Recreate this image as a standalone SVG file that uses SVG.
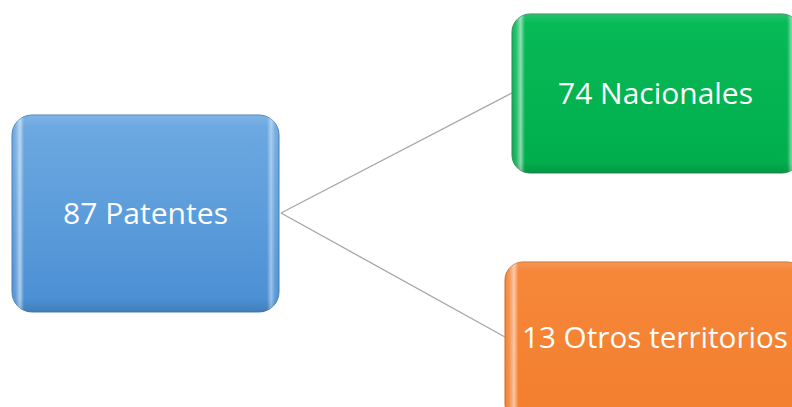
<svg xmlns="http://www.w3.org/2000/svg" width="792" height="407" viewBox="0 0 792 407">
<defs>
<linearGradient id="gBlue" x1="0" y1="0" x2="0" y2="1">
<stop offset="0" stop-color="#6eaae2"/><stop offset="1" stop-color="#4a8fd3"/>
</linearGradient>
<linearGradient id="gGreen" x1="0" y1="0" x2="0" y2="1">
<stop offset="0" stop-color="#07bb57"/><stop offset="1" stop-color="#00ad4c"/>
</linearGradient>
<linearGradient id="gOrange" x1="0" y1="0" x2="0" y2="1">
<stop offset="0" stop-color="#f6873a"/><stop offset="1" stop-color="#f37f2f"/>
</linearGradient>
<linearGradient id="bevel" x1="0" y1="0" x2="1" y2="0">
<stop offset="0" stop-color="#fff" stop-opacity="0"/>
<stop offset="0.015" stop-color="#fff" stop-opacity="0.15"/>
<stop offset="0.03" stop-color="#fff" stop-opacity="0.55"/>
<stop offset="0.045" stop-color="#fff" stop-opacity="0"/>
<stop offset="0.955" stop-color="#fff" stop-opacity="0"/>
<stop offset="0.97" stop-color="#fff" stop-opacity="0.45"/>
<stop offset="0.985" stop-color="#fff" stop-opacity="0.1"/>
<stop offset="1" stop-color="#fff" stop-opacity="0"/>
</linearGradient>
<linearGradient id="bevelV" x1="0" y1="0" x2="0" y2="1">
<stop offset="0" stop-color="#fff" stop-opacity="0.12"/>
<stop offset="0.06" stop-color="#fff" stop-opacity="0"/>
<stop offset="0.93" stop-color="#000" stop-opacity="0"/>
<stop offset="1" stop-color="#000" stop-opacity="0.12"/>
</linearGradient>
</defs>
<style>
.lbl{font-family:"Open Sans","Noto Sans",sans-serif;font-size:30px;fill:#fff;text-anchor:middle}
.conn{stroke:#a6a6a6;stroke-width:1.3;fill:none}
</style>
<g id="connectors">
<line class="conn" x1="281" y1="213" x2="512" y2="93"/>
<line class="conn" x1="281" y1="213" x2="505" y2="337"/>
</g>
<g id="node-patentes">
<rect x="12" y="115" width="267" height="197" rx="20" fill="url(#gBlue)" stroke="#4a7fb5" stroke-width="1"/>
<rect x="12" y="115" width="267" height="197" rx="20" fill="url(#bevel)"/>
<rect x="12" y="115" width="267" height="197" rx="20" fill="url(#bevelV)"/>
<text class="lbl" x="145.5" y="224" textLength="165" lengthAdjust="spacingAndGlyphs">87 Patentes</text>
</g>
<g id="node-nacionales">
<rect x="512" y="14" width="288" height="159" rx="18" fill="url(#gGreen)" stroke="#2e8b57" stroke-width="1"/>
<rect x="512" y="14" width="288" height="159" rx="18" fill="url(#bevel)"/>
<rect x="512" y="14" width="288" height="159" rx="18" fill="url(#bevelV)"/>
<text class="lbl" x="655.5" y="104" textLength="195" lengthAdjust="spacingAndGlyphs">74 Nacionales</text>
</g>
<g id="node-otros">
<rect x="505" y="262" width="300" height="160" rx="18" fill="url(#gOrange)" stroke="#c96a2a" stroke-width="1"/>
<rect x="505" y="262" width="300" height="160" rx="18" fill="url(#bevel)"/>
<rect x="505" y="262" width="300" height="160" rx="18" fill="url(#bevelV)"/>
<text class="lbl" x="655" y="348" textLength="266" lengthAdjust="spacingAndGlyphs">13 Otros territorios</text>
</g>
</svg>
